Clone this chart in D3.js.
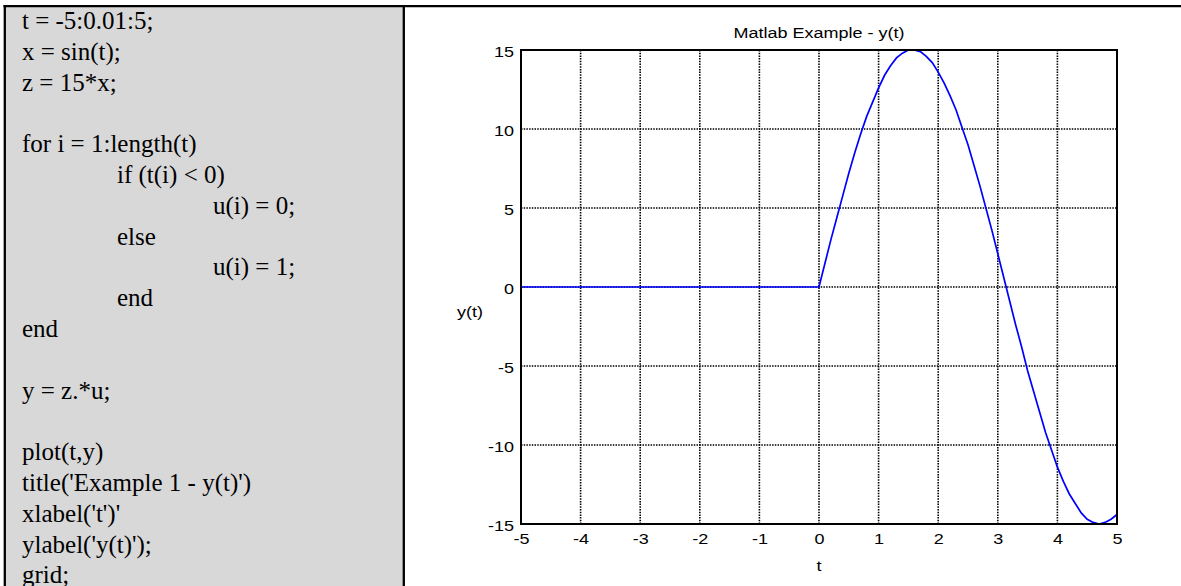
<!DOCTYPE html>
<html>
<head>
<meta charset="utf-8">
<script src="https://cdn.jsdelivr.net/npm/d3@7"></script>
<style>
  html, body { margin: 0; padding: 0; background: #fff; }
  svg { display: block; }
</style>
</head>
<body>
<svg id="chart" width="1181" height="586"></svg>
<script>
// ---- data ----
const codeLines = [
  "t = -5:0.01:5;",
  "x = sin(t);",
  "z = 15*x;",
  "",
  "for i = 1:length(t)",
  "if (t(i) < 0)",
  "u(i) = 0;",
  "else",
  "u(i) = 1;",
  "end",
  "end",
  "",
  "y = z.*u;",
  "",
  "plot(t,y)",
  "title('Example 1  - y(t)')",
  "xlabel('t')'",
  "ylabel('y(t)');",
  "grid;"
];
const codeIndent = [0,0,0,0,0,1,2,1,2,1,0,0,0,0,0,0,0,0,0];

const titleText = "Matlab Example - y(t)";
const xLabelText = "t";
const yLabelText = "y(t)";
const xTicks = [-5,-4,-3,-2,-1,0,1,2,3,4,5];
const yTicks = [-15,-10,-5,0,5,10,15];

// y(t): flat 0 for t<0, then the curve
const tValues = [-5, 0, 0.1,0.2,0.3,0.4,0.5,0.6,0.7,0.8,0.9,1.0,1.1,1.2,1.3,1.4,1.5,1.6,1.7,1.8,1.9,2.0,
  2.1,2.2,2.3,2.4,2.5,2.6,2.7,2.8,2.9,3.0,3.1,3.2,3.3,3.4,3.5,3.6,3.7,3.8,3.9,4.0,
  4.1,4.2,4.3,4.4,4.5,4.6,4.7,4.8,4.9,5.0];
const yValues = [0, 0, 1.5,3.0,4.4,5.8,7.2,8.5,9.7,10.8,11.7,12.6,13.4,14.0,14.5,14.8,15.0,15.0,14.9,14.6,14.2,13.6,
  12.9,12.1,11.2,10.1,9.0,7.7,6.4,5.0,3.6,2.1,0.6,-0.9,-2.4,-3.8,-5.3,-6.6,-7.9,-9.2,-10.3,-11.4,
  -12.3,-13.1,-13.7,-14.3,-14.7,-14.9,-15.0,-14.9,-14.7,-14.4];

// ---- drawing ----
const svg = d3.select("#chart");

// left code panel
svg.append("rect").attr("x", 5).attr("y", 6).attr("width", 399).attr("height", 586)
  .attr("fill", "#d8d8d8");
// borders
svg.append("line").attr("x1", 3.5).attr("x2", 1181).attr("y1", 6.2).attr("y2", 6.2)
  .attr("stroke", "#000").attr("stroke-width", 2.3);
svg.append("line").attr("x1", 4.8).attr("x2", 4.8).attr("y1", 5).attr("y2", 586)
  .attr("stroke", "#000").attr("stroke-width", 2.3);
svg.append("line").attr("x1", 403.8).attr("x2", 403.8).attr("y1", 5).attr("y2", 586)
  .attr("stroke", "#000").attr("stroke-width", 2.3);

const indentX = [22, 117, 213];
svg.append("g").selectAll("text").data(codeLines).join("text")
  .attr("x", (d, i) => indentX[codeIndent[i]])
  .attr("y", (d, i) => 29 + i * 30.8)
  .attr("font-family", "'Liberation Serif', 'Times New Roman', serif")
  .attr("font-size", 25)
  .attr("fill", "#000")
  .text(d => d);

// plot
const x = d3.scaleLinear().domain([-5, 5]).range([521, 1117]);
const y = d3.scaleLinear().domain([-15, 15]).range([524, 50]);
const sx = 1.2;
const fontAx = "'Liberation Sans', Arial, sans-serif";
const fmt = d => String(d);

// grid
const grid = svg.append("g");
grid.selectAll("line.vx").data(xTicks.slice(1, -1)).join("line")
  .attr("x1", d => x(d)).attr("x2", d => x(d)).attr("y1", y(15)).attr("y2", y(-15))
  .attr("stroke", "#000").attr("stroke-width", 1.6).attr("stroke-dasharray", "1.5,1.2");
grid.selectAll("line.hy").data(yTicks.slice(1, -1)).join("line")
  .attr("x1", x(-5)).attr("x2", x(5)).attr("y1", d => y(d)).attr("y2", d => y(d))
  .attr("stroke", "#000").attr("stroke-width", 1.6).attr("stroke-dasharray", "1.5,1.2");

// curve
const pts = tValues.map((t, i) => [t, yValues[i]]);
svg.append("path").datum(pts)
  .attr("d", d3.line().x(d => x(d[0])).y(d => y(d[1])))
  .attr("fill", "none").attr("stroke", "#0000ff").attr("stroke-width", 1.7);

// frame
svg.append("rect").attr("x", x(-5)).attr("y", y(15))
  .attr("width", x(5) - x(-5)).attr("height", y(-15) - y(15))
  .attr("fill", "none").attr("stroke", "#000").attr("stroke-width", 2);

// axes
const xAxis = svg.append("g").attr("transform", `translate(0,${y(-15)})`)
  .call(d3.axisBottom(x).tickValues(xTicks).tickSize(0).tickPadding(9).tickFormat(fmt));
xAxis.select(".domain").remove();
xAxis.selectAll("text").attr("font-family", fontAx).attr("font-size", 15).attr("fill", "#000")
  .attr("transform", `scale(${sx},1)`);

const yAxis = svg.append("g").attr("transform", `translate(${x(-5)},0)`)
  .call(d3.axisLeft(y).tickValues(yTicks).tickSize(0).tickPadding(7).tickFormat(fmt));
yAxis.select(".domain").remove();
yAxis.selectAll("text").attr("font-family", fontAx).attr("font-size", 15).attr("fill", "#000")
  .attr("x", -7 / sx).attr("dy", "0.45em")
  .attr("transform", `scale(${sx},1)`);

// title & labels
const cx = (x(-5) + x(5)) / 2;
svg.append("text").attr("transform", `translate(${cx},38) scale(${sx},1)`)
  .attr("text-anchor", "middle").attr("font-family", fontAx).attr("font-size", 15)
  .attr("fill", "#000").text(titleText);
svg.append("text").attr("transform", `translate(${cx},571) scale(${sx},1)`)
  .attr("text-anchor", "middle").attr("font-family", fontAx).attr("font-size", 15)
  .attr("fill", "#000").text(xLabelText);
svg.append("text").attr("transform", `translate(470,317) scale(${sx},1)`)
  .attr("text-anchor", "middle").attr("font-family", fontAx).attr("font-size", 15)
  .attr("fill", "#000").text(yLabelText);
</script>
</body>
</html>
